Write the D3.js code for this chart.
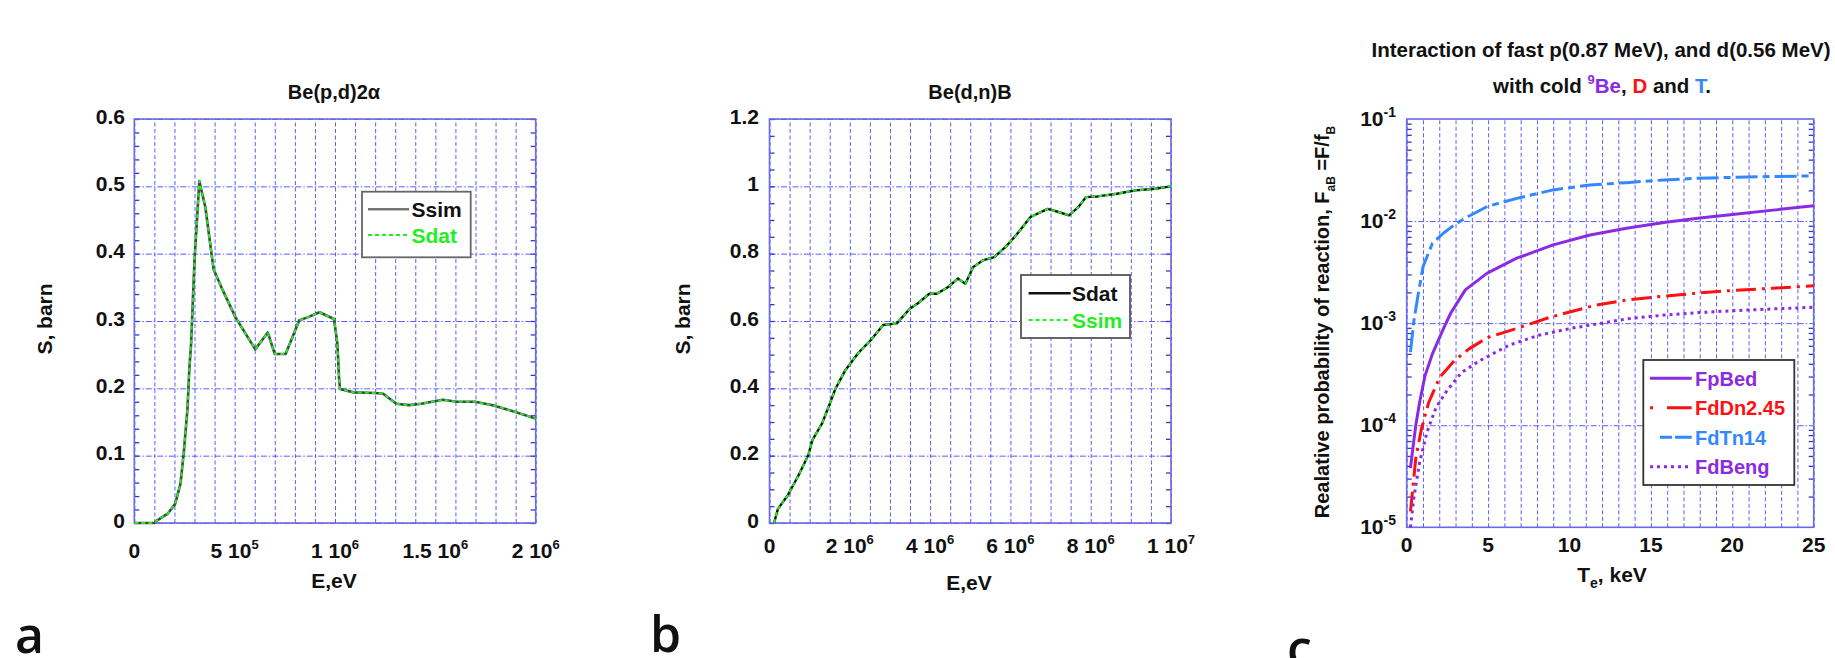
<!DOCTYPE html>
<html>
<head>
<meta charset="utf-8">
<script src="https://cdn.jsdelivr.net/npm/d3@7"></script>
<style>
    body { margin: 0; background: #fff; }
    text { font-family: "Liberation Sans", Arial, sans-serif; font-weight: bold; fill: #111; }
</style>
</head>
<body>
<script>
// ---- panel a : Be(p,d)2α ----
const aE    = [0, 1.0e5, 1.14e5, 1.67e5, 2.03e5, 2.30e5, 2.47e5, 2.65e5, 2.74e5, 2.83e5, 3.0e5, 3.24e5, 3.54e5, 3.95e5, 4.34e5, 5.05e5, 6.03e5, 6.65e5, 7.0e5, 7.54e5, 8.22e5, 8.6e5, 9.23e5, 9.95e5, 1.012e6, 1.02e6, 1.025e6, 1.093e6, 1.2e6, 1.24e6, 1.306e6, 1.368e6, 1.43e6, 1.537e6, 1.608e6, 1.698e6, 1.786e6, 1.875e6, 2.0e6];
const aSsim = [0, 0, 0.004, 0.014, 0.028, 0.058, 0.106, 0.17, 0.228, 0.266, 0.39, 0.508, 0.469, 0.377, 0.35, 0.305, 0.258, 0.283, 0.251, 0.251, 0.301, 0.305, 0.313, 0.303, 0.266, 0.216, 0.199, 0.194, 0.193, 0.192, 0.177, 0.175, 0.177, 0.183, 0.180, 0.180, 0.175, 0.167, 0.155];
const aSdat = [0, 0, 0.004, 0.014, 0.028, 0.058, 0.106, 0.17, 0.228, 0.266, 0.39, 0.508, 0.469, 0.377, 0.35, 0.305, 0.258, 0.283, 0.251, 0.251, 0.301, 0.305, 0.313, 0.303, 0.266, 0.216, 0.199, 0.194, 0.193, 0.192, 0.177, 0.175, 0.177, 0.183, 0.180, 0.180, 0.175, 0.167, 0.155];
const aTicksX = [0, 5e5, 1e6, 1.5e6, 2e6];
const aTickLabelsX = ["0", "5 10^5", "1 10^6", "1.5 10^6", "2 10^6"];
const aTicksY = [0, 0.1, 0.2, 0.3, 0.4, 0.5, 0.6];
const aTickLabelsY = ["0", "0.1", "0.2", "0.3", "0.4", "0.5", "0.6"];

// ---- panel b : Be(d,n)B ----
const bE    = [1.14e5, 2.1e5, 4.48e5, 7.34e5, 9.7e5, 1.07e6, 1.31e6, 1.5e6, 1.64e6, 1.88e6, 2.21e6, 2.5e6, 2.83e6, 3.17e6, 3.5e6, 3.69e6, 3.98e6, 4.17e6, 4.45e6, 4.69e6, 4.88e6, 5.07e6, 5.31e6, 5.6e6, 5.88e6, 6.17e6, 6.5e6, 6.93e6, 7.22e6, 7.46e6, 7.69e6, 7.88e6, 8.17e6, 8.65e6, 9.12e6, 9.6e6, 1.0e7];
const bSdat = [0, 0.042, 0.081, 0.144, 0.203, 0.247, 0.296, 0.354, 0.398, 0.452, 0.505, 0.54, 0.588, 0.593, 0.637, 0.652, 0.681, 0.681, 0.701, 0.726, 0.711, 0.760, 0.780, 0.790, 0.820, 0.859, 0.909, 0.933, 0.923, 0.914, 0.938, 0.968, 0.970, 0.978, 0.988, 0.993, 1.0];
const bSsim = [0, 0.042, 0.081, 0.144, 0.203, 0.247, 0.296, 0.354, 0.398, 0.452, 0.505, 0.54, 0.588, 0.593, 0.637, 0.652, 0.681, 0.681, 0.701, 0.726, 0.711, 0.760, 0.780, 0.790, 0.820, 0.859, 0.909, 0.933, 0.923, 0.914, 0.938, 0.968, 0.970, 0.978, 0.988, 0.993, 1.0];
const bTicksX = [0, 2e6, 4e6, 6e6, 8e6, 1e7];
const bTickLabelsX = ["0", "2 10^6", "4 10^6", "6 10^6", "8 10^6", "1 10^7"];
const bTicksY = [0, 0.2, 0.4, 0.6, 0.8, 1.0, 1.2];
const bTickLabelsY = ["0", "0.2", "0.4", "0.6", "0.8", "1", "1.2"];

// ---- panel c : relative probability vs Te ----
const cTpBed = [0.23, 0.45, 0.56, 0.79, 1.13, 1.58, 2.25, 2.7, 3.6, 4.95, 6.76, 9.0, 11.26, 13.5, 15.8, 18.0, 20.3, 22.5, 25];
const cFpBed = [3.8e-5, 7.3e-5, 1.0e-4, 1.67e-4, 3.07e-4, 5.0e-4, 8.8e-4, 1.25e-3, 2.12e-3, 3.09e-3, 4.33e-3, 5.85e-3, 7.3e-3, 8.5e-3, 9.7e-3, 1.07e-2, 1.17e-2, 1.28e-2, 1.41e-2];
const cTdDn  = [0.23, 0.34, 0.56, 0.9, 1.35, 2.03, 2.93, 3.83, 4.95, 6.87, 8.78, 11.6, 13.56, 15.8, 17.9, 19.8, 22.5, 25];
const cFdDn  = [1.43e-5, 2.1e-5, 4.8e-5, 9.1e-5, 1.67e-4, 2.95e-4, 4.3e-4, 5.6e-4, 7.2e-4, 9.0e-4, 1.14e-3, 1.5e-3, 1.69e-3, 1.84e-3, 1.97e-3, 2.08e-3, 2.2e-3, 2.32e-3];
const cTdTn  = [0.23, 0.45, 0.72, 1.01, 1.58, 2.25, 2.93, 3.6, 4.95, 6.76, 9.0, 11.26, 13.5, 15.8, 18.0, 20.3, 22.5, 25];
const cFdTn  = [5.2e-4, 1.08e-3, 1.97e-3, 3.6e-3, 6.07e-3, 7.6e-3, 9.2e-3, 1.07e-2, 1.39e-2, 1.67e-2, 2.02e-2, 2.26e-2, 2.38e-2, 2.53e-2, 2.63e-2, 2.69e-2, 2.73e-2, 2.77e-2];
const cTdBe  = [0.23, 0.45, 0.79, 1.24, 1.8, 2.48, 3.38, 4.5, 6.3, 8.1, 10.1, 12.0, 13.5, 15.8, 18.0, 20.3, 22.5, 25];
const cFdBe  = [1.0e-5, 2.0e-5, 4.3e-5, 8.5e-5, 1.49e-4, 2.19e-4, 3.3e-4, 4.3e-4, 6.1e-4, 7.6e-4, 8.9e-4, 1.0e-3, 1.1e-3, 1.2e-3, 1.27e-3, 1.33e-3, 1.38e-3, 1.43e-3];
const cTicksX = [0, 5, 10, 15, 20, 25];
const cTickLabelsX = ["0", "5", "10", "15", "20", "25"];
const cTicksY = [1e-5, 1e-4, 1e-3, 1e-2, 1e-1];
const cTickLabelsY = ["10^-5", "10^-4", "10^-3", "10^-2", "10^-1"];

const GRID = "#5c5cff";
const FRAME = "#6a6ae6";
const GREEN = "#22ee22";
const PURPLE = "#8a2be2";
const RED = "#ff1010";
const BLUE = "#3388ff";

const svg = d3.select("body").append("svg").attr("width", 1835).attr("height", 658);

// "5 10^5" -> "5 10" + superscript "5"
function supLabel(sel, label, supSize, supDy) {
    const parts = label.split("^");
    sel.append("tspan").text(parts[0]);
    if (parts.length > 1) {
        sel.append("tspan").attr("font-size", supSize).attr("dy", supDy).text(parts[1]);
    }
}

function drawPanel(o) {
    const g = svg.append("g");
    const [x0, x1] = o.x.range();
    const [yb, yt] = o.y.range();

    // grid
    g.append("g").attr("transform", `translate(0,${yb})`)
        .call(d3.axisBottom(o.x).tickValues(o.gridX).tickSize(-(yb - yt)).tickFormat(""))
        .call(s => s.select(".domain").remove())
        .selectAll("line").attr("stroke", GRID).attr("stroke-width", 1).attr("stroke-dasharray", "4,2.5");
    g.append("g").attr("transform", `translate(${x0},0)`)
        .call(d3.axisLeft(o.y).tickValues(o.gridY).tickSize(-(x1 - x0)).tickFormat(""))
        .call(s => s.select(".domain").remove())
        .selectAll("line").attr("stroke", GRID).attr("stroke-width", 1).attr("stroke-dasharray", "6,2,1.5,2");

    // minor ticks on left and right edges
    [[x0, d3.axisRight], [x1, d3.axisLeft]].forEach(([xx, ax]) => {
        g.append("g").attr("transform", `translate(${xx},0)`)
            .call(ax(o.y).tickValues(o.minorY).tickSize(5).tickFormat(""))
            .call(s => s.select(".domain").remove())
            .selectAll("line").attr("stroke", "#3434d8").attr("stroke-width", 1.3);
    });

    g.append("rect")
        .attr("x", x0).attr("y", yt)
        .attr("width", x1 - x0).attr("height", yb - yt)
        .attr("fill", "none").attr("stroke", FRAME).attr("stroke-width", 1.6);

    // tick labels
    g.selectAll(".xlab").data(o.ticksX).join("text")
        .attr("class", "xlab")
        .attr("x", d => o.x(d)).attr("y", o.xLabY)
        .attr("text-anchor", "middle").attr("font-size", 21)
        .each(function(d, i) { supLabel(d3.select(this), o.tickLabelsX[i], 13, -9); });
    g.selectAll(".ylab").data(o.ticksY).join("text")
        .attr("class", "ylab")
        .attr("x", o.yLabX).attr("y", d => o.y(d) + o.yLabDy)
        .attr("text-anchor", "end").attr("font-size", 21)
        .each(function(d, i) { supLabel(d3.select(this), o.tickLabelsY[i], 14, -9); });

    // series
    o.series.forEach(s => {
        g.append("path")
            .datum(d3.zip(s.xs, s.ys))
            .attr("d", d3.line().x(d => o.x(d[0])).y(d => o.y(d[1])))
            .attr("fill", "none")
            .attr("stroke", s.color)
            .attr("stroke-width", s.width)
            .attr("stroke-dasharray", s.dash || null)
            .attr("stroke-linejoin", "round");
    });

    // legend
    const L = o.legend;
    g.append("rect")
        .attr("x", L.x).attr("y", L.y).attr("width", L.w).attr("height", L.h)
        .attr("fill", "#fff").attr("stroke", L.stroke).attr("stroke-width", 1.8);
    L.items.forEach((it, i) => {
        const s = o.series[it.series];
        const yy = L.rows[i];
        g.append("line")
            .attr("x1", L.lx1).attr("x2", L.lx2).attr("y1", yy).attr("y2", yy)
            .attr("stroke", it.color || s.color).attr("stroke-width", s.width)
            .attr("stroke-dasharray", it.dash || s.dash || null);
        g.append("text")
            .attr("x", L.tx).attr("y", yy + 7.5)
            .attr("font-size", L.fs).style("fill", it.textColor)
            .text(it.name);
    });
}

// ---------- panel a ----------
const xa = d3.scaleLinear().domain([0, 2e6]).range([134.3, 535.7]);
const ya = d3.scaleLinear().domain([0, 0.6]).range([523, 119]);
drawPanel({
    x: xa, y: ya,
    gridX: d3.range(0, 2e6 + 1, 1e5), gridY: aTicksY,
    minorY: d3.range(0, 0.601, 0.02),
    ticksX: aTicksX, tickLabelsX: aTickLabelsX, xLabY: 558,
    ticksY: aTicksY, tickLabelsY: aTickLabelsY, yLabX: 125, yLabDy: 4.5,
    series: [
        {xs: aE, ys: aSsim, color: "#444", width: 2.6},
        {xs: aE, ys: aSdat, color: GREEN, width: 2, dash: "4,3"}
    ],
    legend: {
        x: 362, y: 191.7, w: 108.7, h: 65.6, stroke: "#666",
        lx1: 368, lx2: 409, tx: 411.5, rows: [209.3, 235], fs: 21,
        items: [
            {series: 0, name: "Ssim", textColor: "#111", color: "#777"},
            {series: 1, name: "Sdat", textColor: GREEN}
        ]
    }
});

// ---------- panel b ----------
const xb = d3.scaleLinear().domain([0, 1e7]).range([769.5, 1171]);
const yb = d3.scaleLinear().domain([0, 1.2]).range([523, 119]);
drawPanel({
    x: xb, y: yb,
    gridX: d3.range(0, 1e7 + 1, 5e5), gridY: bTicksY,
    minorY: d3.range(0, 1.201, 0.05),
    ticksX: bTicksX, tickLabelsX: bTickLabelsX, xLabY: 553,
    ticksY: bTicksY, tickLabelsY: bTickLabelsY, yLabX: 759, yLabDy: 4.5,
    series: [
        {xs: bE, ys: bSdat, color: "#111", width: 2.4},
        {xs: bE, ys: bSsim, color: GREEN, width: 2, dash: "4,3"}
    ],
    legend: {
        x: 1021, y: 275, w: 109, h: 63, stroke: "#555",
        lx1: 1028.6, lx2: 1070.7, tx: 1072, rows: [293.3, 320], fs: 21,
        items: [
            {series: 0, name: "Sdat", textColor: "#111"},
            {series: 1, name: "Ssim", textColor: GREEN}
        ]
    }
});

// ---------- panel c ----------
const xc = d3.scaleLinear().domain([0, 25]).range([1406.7, 1813.7]);
const yc = d3.scaleLog().domain([1e-5, 1e-1]).range([527.3, 119]);
const cMinor = [];
[1e-5, 1e-4, 1e-3, 1e-2].forEach(dec => d3.range(2, 10).forEach(m => cMinor.push(dec * m)));
drawPanel({
    x: xc, y: yc,
    gridX: d3.range(0, 26, 1), gridY: [1e-4, 1e-3, 1e-2],
    minorY: cMinor,
    ticksX: cTicksX, tickLabelsX: cTickLabelsX, xLabY: 552,
    ticksY: cTicksY, tickLabelsY: cTickLabelsY, yLabX: 1396, yLabDy: 6.5,
    series: [
        {xs: cTpBed, ys: cFpBed, color: PURPLE, width: 3},
        {xs: cTdDn, ys: cFdDn, color: RED, width: 3, dash: "20,6,3,6"},
        {xs: cTdTn, ys: cFdTn, color: BLUE, width: 3, dash: "22,5,7,5"},
        {xs: cTdBe, ys: cFdBe, color: PURPLE, width: 3, dash: "3,4"}
    ],
    legend: {
        x: 1643.3, y: 360, w: 151, h: 125, stroke: "#333",
        lx1: 1650, lx2: 1691.7, tx: 1695, rows: [378.3, 407.7, 437.3, 466.7], fs: 20,
        items: [
            {series: 0, name: "FpBed", textColor: PURPLE},
            {series: 1, name: "FdDn2.45", textColor: RED, dash: "3,14,25"},
            {series: 2, name: "FdTn14", textColor: BLUE, dash: "0,10,12,3,20"},
            {series: 3, name: "FdBeng", textColor: PURPLE}
        ]
    }
});

// ---------- titles and axis labels ----------
svg.append("text").attr("x", 334).attr("y", 99).attr("text-anchor", "middle").attr("font-size", 20).text("Be(p,d)2α");
svg.append("text").attr("x", 970).attr("y", 99).attr("text-anchor", "middle").attr("font-size", 20).text("Be(d,n)B");

const t1 = svg.append("text").attr("x", 1601).attr("y", 57).attr("text-anchor", "middle").attr("font-size", 20.5);
t1.text("Interaction of fast p(0.87 MeV), and d(0.56 MeV)");
const t2 = svg.append("text").attr("x", 1602).attr("y", 93).attr("text-anchor", "middle").attr("font-size", 20.5);
t2.append("tspan").text("with cold ");
t2.append("tspan").attr("font-size", 13).attr("dy", -9).style("fill", PURPLE).text("9");
t2.append("tspan").attr("dy", 9).style("fill", PURPLE).text("Be");
t2.append("tspan").text(", ");
t2.append("tspan").style("fill", RED).text("D");
t2.append("tspan").text(" and ");
t2.append("tspan").style("fill", BLUE).text("T");
t2.append("tspan").text(".");

svg.append("text").attr("transform", "translate(52,319) rotate(-90)").attr("text-anchor", "middle").attr("font-size", 21).text("S, barn");
svg.append("text").attr("transform", "translate(690,319) rotate(-90)").attr("text-anchor", "middle").attr("font-size", 21).text("S, barn");
svg.append("text").attr("x", 334).attr("y", 588).attr("text-anchor", "middle").attr("font-size", 21).text("E,eV");
svg.append("text").attr("x", 969).attr("y", 590).attr("text-anchor", "middle").attr("font-size", 21).text("E,eV");

const yl = svg.append("text").attr("transform", "translate(1329,322) rotate(-90)").attr("text-anchor", "middle").attr("font-size", 20);
yl.append("tspan").text("Realative probability of reaction, F");
yl.append("tspan").attr("font-size", 12).attr("dy", 6).text("aB");
yl.append("tspan").attr("dy", -6).text(" =F/f");
yl.append("tspan").attr("font-size", 12).attr("dy", 6).text("B");

const xl = svg.append("text").attr("x", 1612).attr("y", 582).attr("text-anchor", "middle").attr("font-size", 21);
xl.append("tspan").text("T");
xl.append("tspan").attr("font-size", 14).attr("dy", 6).text("e");
xl.append("tspan").attr("dy", -6).text(", keV");

// panel letters
[["a", 15, 653], ["b", 650, 652], ["c", 1287, 666]].forEach(([t, x, y]) => {
    svg.append("text").attr("x", x).attr("y", y)
        .style("font-family", "'Open Sans', sans-serif").style("font-weight", 600)
        .attr("font-size", 50).text(t);
});
</script>
</body>
</html>
